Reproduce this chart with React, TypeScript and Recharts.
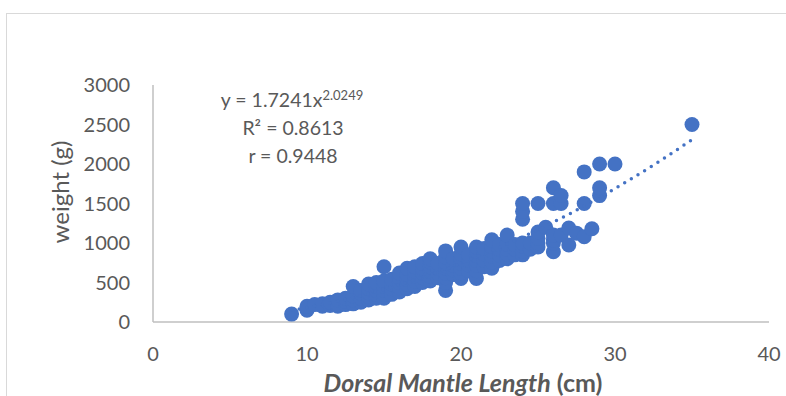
import React from 'react';
import { ScatterChart, Scatter, XAxis, YAxis } from 'recharts';

// squid measurements: [dorsal mantle length (cm), weight (g)]
const smallSquid: [number, number][] = [
  [9, 100], [10, 150], [10, 200], [10.5, 220], [11, 200], [11, 230], [11.5, 210], [11.5, 250],
  [12, 200], [12, 230], [12, 280], [12.5, 220], [12.5, 260], [12.5, 300],
  [13, 230], [13, 280], [13, 330], [13, 450], [13.5, 250], [13.5, 300], [13.5, 360], [13.5, 400],
  [14, 280], [14, 320], [14, 370], [14, 420], [14, 480],
  [14.5, 300], [14.5, 350], [14.5, 400], [14.5, 450], [14.5, 500],
  [15, 300], [15, 350], [15, 400], [15, 450], [15, 520], [15, 700],
  [15.5, 350], [15.5, 420], [15.5, 480], [15.5, 540],
  [16, 380], [16, 440], [16, 500], [16, 560], [16, 620],
  [16.5, 420], [16.5, 480], [16.5, 540], [16.5, 600], [16.5, 680],
];

const midSquid: [number, number][] = [
  [17, 450], [17, 520], [17, 580], [17, 640], [17, 700],
  [17.5, 500], [17.5, 560], [17.5, 620], [17.5, 680], [17.5, 740],
  [18, 520], [18, 580], [18, 640], [18, 700], [18, 760], [18, 800],
  [18.5, 560], [18.5, 620], [18.5, 680], [18.5, 740],
  [19, 400], [19, 500], [19, 560], [19, 620], [19, 680], [19, 750], [19, 820], [19, 900],
  [19.5, 600], [19.5, 660], [19.5, 720], [19.5, 800],
  [20, 550], [20, 620], [20, 680], [20, 740], [20, 800], [20, 860], [20, 950],
  [20.5, 650], [20.5, 720], [20.5, 780], [20.5, 850],
  [21, 550], [21, 650], [21, 720], [21, 780], [21, 840], [21, 900], [21, 950],
  [21.5, 700], [21.5, 780], [21.5, 860], [21.5, 930],
  [22, 680], [22, 760], [22, 830], [22, 900], [22, 960], [22, 1040],
  [22.5, 780], [22.5, 850], [22.5, 920], [22.5, 980],
];

const largeSquid: [number, number][] = [
  [23, 800], [23, 860], [23, 920], [23, 980], [23, 1100],
  [23.5, 850], [23.5, 920], [23.5, 980],
  [24, 850], [24, 900], [24, 960], [24, 1000], [24, 1300], [24, 1400], [24, 1500],
  [24.5, 920], [24.5, 1000],
  [25, 950], [25, 1000], [25, 1060], [25, 1140], [25, 1500], [25.5, 1200],
  [26, 890], [26, 1000], [26, 1040], [26, 1100], [26, 1500], [26, 1700],
  [26.5, 1100], [26.5, 1500], [26.5, 1600],
  [27, 975], [27, 1190], [27.5, 1125],
  [28, 1080], [28, 1500], [28, 1900], [28.5, 1180],
  [29, 1600], [29, 1700], [29, 2000], [30, 2000], [35, 2500],
];

// power trendline
const trendLengths = [9, 12, 15, 18, 21, 24, 27, 30, 33, 35];
const trendWeights = [148, 264, 415, 600, 820, 1075, 1364, 1689, 2049, 2308];

const xTicks = [0, 10, 20, 30, 40];
const yTicks = [0, 500, 1000, 1500, 2000, 2500, 3000];

const points = [...smallSquid, ...midSquid, ...largeSquid].map(([x, y]) => ({ x, y }));
const trend = trendLengths.map((x, i) => ({ x, y: trendWeights[i] }));

const BLUE = '#4472C4';
const TEXT = '#595959';
const FONT = 'Lato, "Open Sans", sans-serif';

const Dot = (props: any) => <circle cx={props.cx} cy={props.cy} r={7.5} fill={BLUE} />;
const NoDot = () => <g />;

export default function App() {
  return (
    <div style={{ position: 'absolute', left: 0, top: 0, width: 786, height: 396, overflow: 'hidden', background: '#fff' }}>
      <div style={{ position: 'absolute', left: 6, top: 13, width: 820, height: 420, border: '1.5px solid #d9d9d9' }} />
      <div style={{ position: 'absolute', left: 0, top: 0 }}>
        <ScatterChart width={786} height={396} margin={{ top: 85, right: 17, bottom: 0, left: 0 }}>
          <XAxis
            type="number"
            dataKey="x"
            domain={[0, 40]}
            ticks={xTicks}
            height={74}
            tickLine={false}
            tickSize={6}
            tickMargin={19}
            axisLine={{ stroke: '#bfbfbf', strokeWidth: 1.5 }}
            tick={{ fill: TEXT, fontSize: 20, fontFamily: FONT }}
          />
          <YAxis
            type="number"
            dataKey="y"
            domain={[0, 3000]}
            ticks={yTicks}
            width={153}
            tickLine={false}
            tickSize={6}
            tickMargin={17}
            axisLine={{ stroke: '#bfbfbf', strokeWidth: 1.5 }}
            tick={{ fill: TEXT, fontSize: 20, fontFamily: FONT }}
          />
          <Scatter data={points} shape={Dot} isAnimationActive={false} />
          <Scatter
            data={trend}
            shape={NoDot}
            line={{ stroke: BLUE, strokeWidth: 3.5, strokeDasharray: '0 7.8', strokeLinecap: 'round' }}
            lineJointType="monotoneX"
            isAnimationActive={false}
          />
        </ScatterChart>
      </div>
      <svg width={786} height={396} style={{ position: 'absolute', left: 0, top: 0, pointerEvents: 'none' }}>
        <g fontFamily={FONT} fill={TEXT}>
          <text x={292} y={107} fontSize={19.5} textAnchor="middle">
            y = 1.7241x<tspan dy={-7} fontSize={13}>2.0249</tspan>
          </text>
          <text x={293} y={135} fontSize={19.5} textAnchor="middle">R² = 0.8613</text>
          <text x={293} y={163} fontSize={19.5} textAnchor="middle">r = 0.9448</text>
          <text x={69} y={192} fontSize={24} textAnchor="middle" transform="rotate(-90, 69, 192)">weight (g)</text>
          <text x={463} y={392} fontSize={25} fontWeight="bold" textAnchor="middle">
            <tspan fontStyle="italic">Dorsal Mantle Length</tspan> (cm)
          </text>
        </g>
      </svg>
    </div>
  );
}
